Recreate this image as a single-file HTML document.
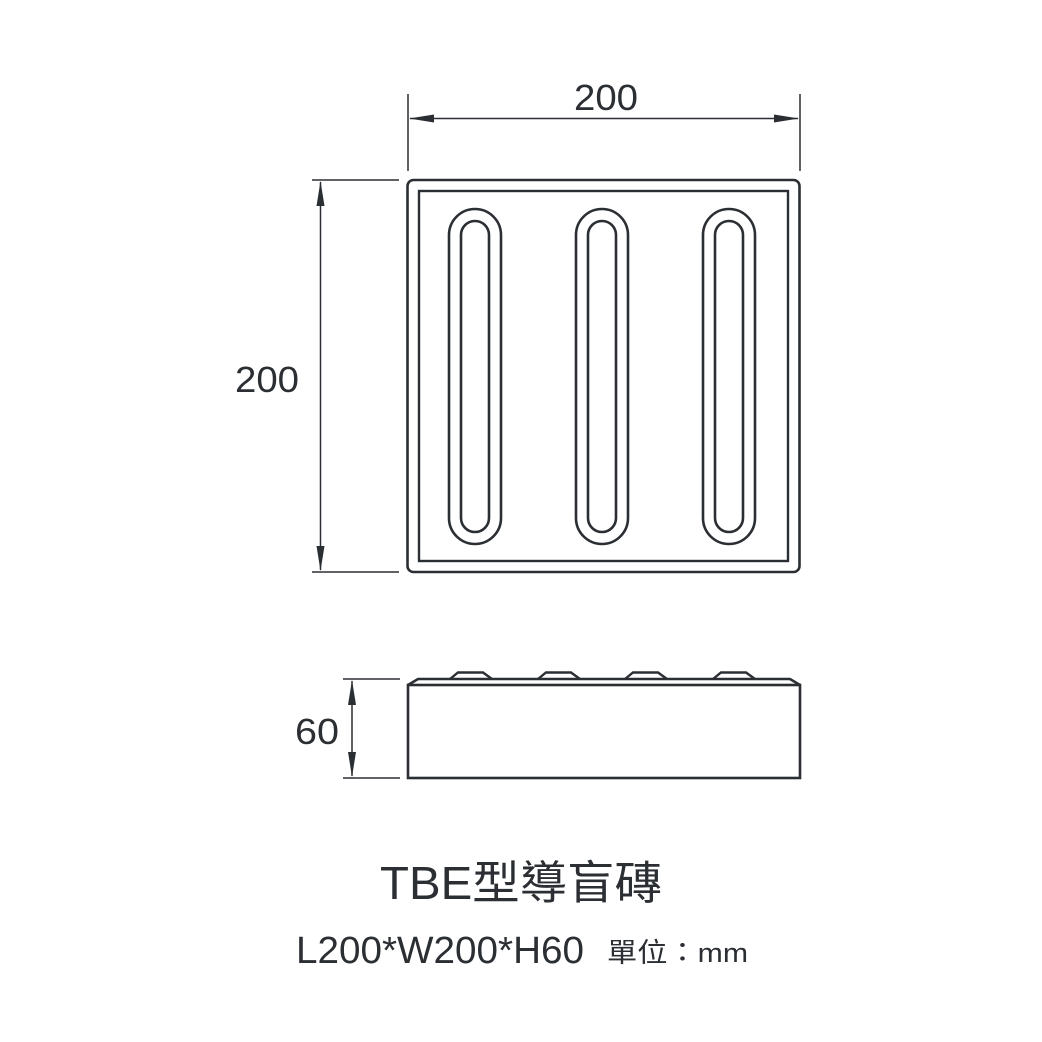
<!DOCTYPE html>
<html><head><meta charset="utf-8"><style>
html,body{margin:0;padding:0;background:#fff;}
svg{display:block;}
</style></head><body>
<svg width="1042" height="1042" viewBox="0 0 1042 1042" xmlns="http://www.w3.org/2000/svg">
<defs>
<g id="pill">
<rect x="-26" y="209" width="52" height="335" rx="26" fill="none" stroke="#2b2f33" stroke-width="2.6"/>
<rect x="-14" y="221" width="28" height="311" rx="14" fill="none" stroke="#2b2f33" stroke-width="2.6"/>
</g>
</defs>
<g stroke="#2b2f33" fill="none">
<!-- top dimension -->
<line x1="408" y1="94" x2="408" y2="171" stroke-width="1.5"/>
<line x1="800" y1="94" x2="800" y2="171" stroke-width="1.5"/>
<line x1="410" y1="118.5" x2="798" y2="118.5" stroke-width="1.5"/>
<!-- left dimension -->
<line x1="312" y1="180" x2="399" y2="180" stroke-width="1.5"/>
<line x1="312" y1="572" x2="399" y2="572" stroke-width="1.5"/>
<line x1="320.5" y1="182" x2="320.5" y2="570" stroke-width="1.5"/>
<!-- side dimension -->
<line x1="343" y1="679" x2="400" y2="679" stroke-width="1.5"/>
<line x1="343" y1="778" x2="400" y2="778" stroke-width="1.5"/>
<line x1="352" y1="681" x2="352" y2="776" stroke-width="1.5"/>
<!-- plan -->
<rect x="407.5" y="180" width="392" height="392" rx="6" stroke-width="2.6"/>
<rect x="419" y="191" width="369" height="370" stroke-width="2.4"/>
<!-- side view -->
<rect x="408" y="685" width="392" height="93" stroke-width="2.6"/>
<polyline points="408,685 418,679 790,679 800,685" stroke-width="2.6"/>
<polyline points="450,679 458,672.5 483,672.5 492,679" stroke-width="2.4"/>
<polyline points="538,679 546,672.5 571,672.5 580,679" stroke-width="2.4"/>
<polyline points="625,679 633,672.5 658,672.5 667,679" stroke-width="2.4"/>
<polyline points="713,679 721,672.5 746,672.5 755,679" stroke-width="2.4"/>
</g>
<use href="#pill" x="475"/>
<use href="#pill" x="602"/>
<use href="#pill" x="729"/>
<g fill="#2b2f33">
<polygon points="409,118.5 434,114.5 434,122.5"/>
<polygon points="799,118.5 774,114.5 774,122.5"/>
<polygon points="320.5,181 316.5,206 324.5,206"/>
<polygon points="320.5,571 316.5,546 324.5,546"/>
<polygon points="352,680 348,705 356,705"/>
<polygon points="352,777 348,752 356,752"/>
</g>
<g fill="#2b2f33" font-family="'Liberation Sans','Noto Sans CJK TC',sans-serif">
<text x="574" y="110" font-size="36" textLength="64" lengthAdjust="spacingAndGlyphs">200</text>
<text x="235" y="392" font-size="36" textLength="64" lengthAdjust="spacingAndGlyphs">200</text>
<text x="295" y="744" font-size="36" textLength="44" lengthAdjust="spacingAndGlyphs">60</text>
<text x="380" y="899" font-size="46" textLength="282" lengthAdjust="spacingAndGlyphs">TBE型導盲磚</text>
<text x="296" y="963" font-size="38" textLength="288" lengthAdjust="spacingAndGlyphs">L200*W200*H60</text>
<text x="607" y="962" font-size="27" textLength="141" lengthAdjust="spacingAndGlyphs">單位：mm</text>
</g>
</svg>
</body></html>
